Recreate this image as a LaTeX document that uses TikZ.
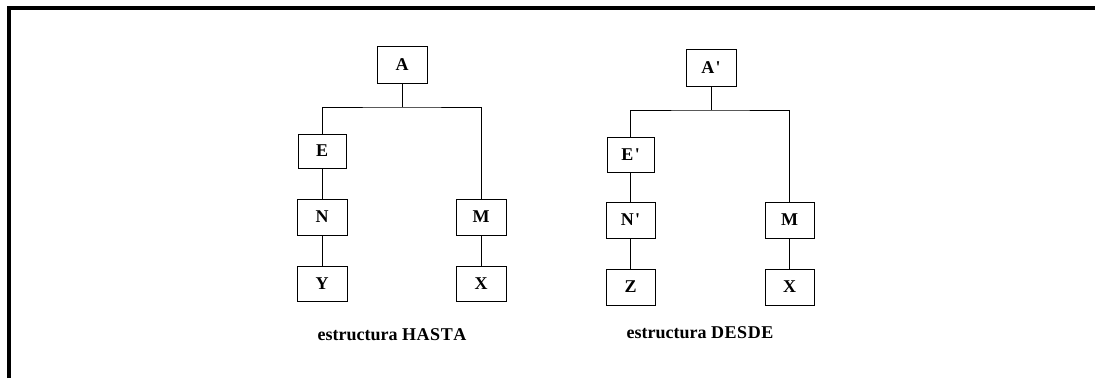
\documentclass[tikz,border=0pt]{standalone}
\usepackage{fontspec}
\setmainfont{Liberation Serif}
\begin{document}
\begin{tikzpicture}[x=1pt,y=-1pt,
  box/.style={draw, line width=0.8pt, inner sep=0pt, minimum width=50pt, minimum height=36pt,
    font=\fontsize{18}{20}\selectfont\bfseries},
  link/.style={line width=0.8pt},
  frame/.style={line width=4pt},
  caption/.style={font=\fontsize{18}{21}\selectfont\bfseries, inner sep=0pt}]
\useasboundingbox (0,0) rectangle (1095,378);
% outer frame (top and left edges)
\draw[frame] (9,378) -- (9,7.5) -- (1095,7.5);

% tree on the left
\node[box, minimum height=37pt] (A) at (402,64.5) {A};
\node[box, minimum width=48pt, minimum height=34pt] (E) at (322,151) {E};
\node[box] (N) at (322,217) {N};
\node[box, minimum height=35pt] (Y) at (322,283.5) {Y};
\node[box] (M) at (481,217) {M};
\node[box, minimum height=35pt] (X) at (481,283.5) {X};
\coordinate (hb) at (402,107);
\draw[link] (A) -- (hb);
\draw[link] (E) |- (hb) -| (M);
\draw[link] (E) -- (N);
\draw[link] (N) -- (Y);
\draw[link] (M) -- (X);
\node[caption] (capH) at (392,335) {estructura H\kern0.6ptA\kern0.6ptS\kern0.6ptT\kern0.6ptA};

% tree on the right
\node[box, minimum height=37pt] (A2) at (711,67.5) {A\kern1.5pt\textquotesingle};
\node[box, minimum width=47pt, minimum height=35pt] (E2) at (630.5,154.5) {E\kern1.5pt\textquotesingle};
\node[box, minimum width=49pt] (N2) at (630.5,220) {N\kern1.5pt\textquotesingle};
\node[box, minimum width=49pt] (Z2) at (630.5,287) {Z};
\node[box, minimum width=49pt] (M2) at (789.5,220) {M};
\node[box, minimum width=49pt] (X2) at (789.5,287) {X};
\coordinate (hb2) at (711,110);
\draw[link] (A2) -- (hb2);
\draw[link] (E2) |- (hb2) -| (M2);
\draw[link] (E2) -- (N2);
\draw[link] (N2) -- (Z2);
\draw[link] (M2) -- (X2);
\node[caption] (capD) at (700,333) {estructura D\kern0.6ptE\kern0.6ptS\kern0.6ptD\kern0.6ptE};
\end{tikzpicture}
\end{document}
